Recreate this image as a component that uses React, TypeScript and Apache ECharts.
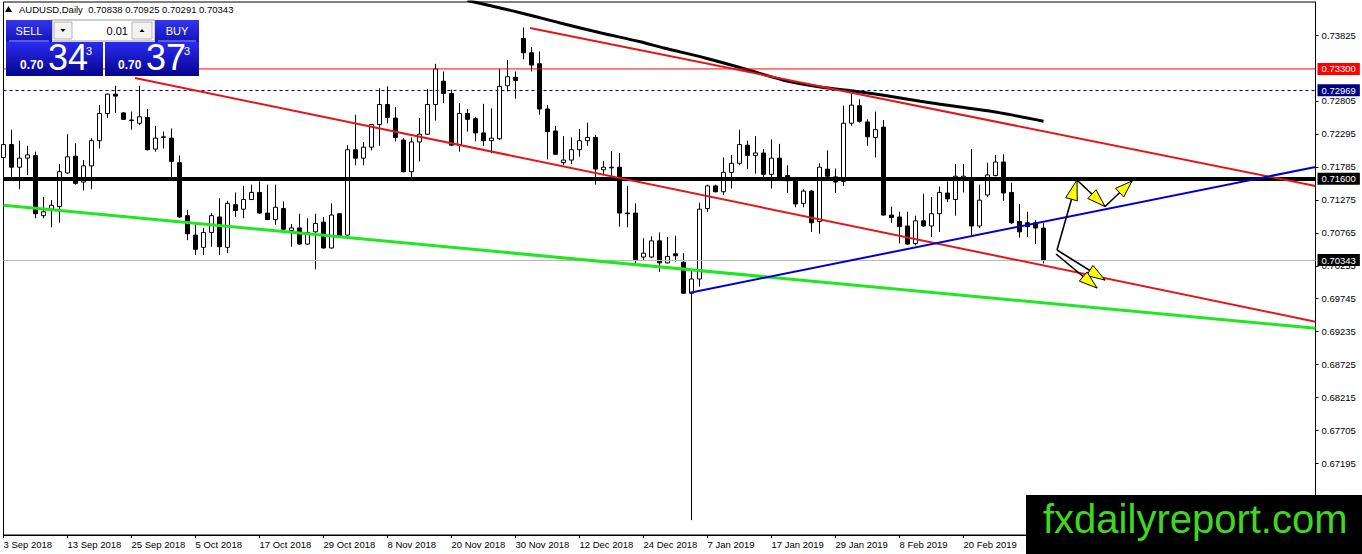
import React, { useEffect, useRef } from "react";
import * as echarts from "echarts";

// ---- data (daily AUDUSD bars, index 0 = 3 Sep 2018) ----
const opens = [
  0.7193, 0.7213, 0.7178, 0.7192, 0.7196, 0.7103, 0.7113, 0.7117, 0.7169, 0.7195,
  0.7155, 0.718, 0.7219, 0.7261, 0.7291, 0.7262, 0.725, 0.7246, 0.7255, 0.7206,
  0.7224, 0.7223, 0.7185, 0.7103, 0.7073, 0.7054, 0.7077, 0.7101, 0.7054, 0.712,
  0.7113, 0.7128, 0.7139, 0.7107, 0.7097, 0.7114, 0.708, 0.7084, 0.7059, 0.7078,
  0.7093, 0.7053, 0.7106, 0.7073, 0.7205, 0.7192, 0.7209, 0.7244, 0.7275, 0.7254,
  0.722, 0.7171, 0.7217, 0.7229, 0.7275, 0.7311, 0.7292, 0.7212, 0.7261, 0.7253,
  0.7231, 0.7219, 0.7222, 0.7304, 0.7317, 0.7377, 0.7355, 0.7338, 0.7268, 0.7234,
  0.7185, 0.7189, 0.7205, 0.7219, 0.7224, 0.7174, 0.7177, 0.7178, 0.7107, 0.7107,
  0.7039, 0.7039, 0.7064, 0.703, 0.7044, 0.7031, 0.6983, 0.7005, 0.7114, 0.7149,
  0.714, 0.717, 0.7184, 0.7212, 0.7196, 0.72, 0.7167, 0.7192, 0.7165, 0.7161,
  0.7122, 0.7141, 0.7094, 0.7175, 0.7163, 0.7156, 0.7246, 0.7273, 0.7248, 0.7224,
  0.724, 0.7104, 0.7101, 0.7087, 0.706, 0.7095, 0.7087, 0.7106, 0.7138, 0.7128,
  0.7161, 0.7159, 0.7087, 0.7135, 0.7165, 0.7186, 0.7139, 0.7094, 0.7092, 0.7092,
  0.70838,
];
const highs = [
  0.7223, 0.7236, 0.7219, 0.7211, 0.7202, 0.7132, 0.7127, 0.7183, 0.7229, 0.7215,
  0.7189, 0.7223, 0.7274, 0.7292, 0.7304, 0.7263, 0.7264, 0.7304, 0.7268, 0.7242,
  0.7233, 0.7238, 0.7196, 0.7112, 0.7089, 0.7084, 0.7107, 0.713, 0.7126, 0.7139,
  0.7149, 0.7151, 0.7156, 0.7151, 0.7151, 0.7125, 0.709, 0.7106, 0.7099, 0.7106,
  0.7101, 0.7122, 0.7107, 0.7212, 0.7259, 0.7217, 0.7245, 0.73, 0.7303, 0.7271,
  0.7223, 0.7224, 0.7254, 0.7299, 0.7338, 0.7326, 0.7298, 0.7277, 0.7268, 0.7256,
  0.7276, 0.7269, 0.733, 0.7344, 0.7326, 0.7394, 0.7364, 0.7357, 0.7274, 0.7242,
  0.7226, 0.7224, 0.7237, 0.7247, 0.7228, 0.7188, 0.7203, 0.72, 0.7149, 0.7122,
  0.7068, 0.7071, 0.7077, 0.707, 0.7072, 0.7045, 0.7019, 0.7123, 0.7151, 0.7151,
  0.7193, 0.7197, 0.7236, 0.7219, 0.7226, 0.7206, 0.7221, 0.7214, 0.7181, 0.7163,
  0.7144, 0.7143, 0.7184, 0.7204, 0.7176, 0.7273, 0.7292, 0.7283, 0.7252, 0.7264,
  0.7251, 0.7117, 0.7109, 0.7109, 0.7103, 0.7137, 0.7132, 0.7148, 0.7156, 0.7183,
  0.7183, 0.7206, 0.7151, 0.7185, 0.7197, 0.7198, 0.7154, 0.7121, 0.7109, 0.7096,
  0.70925,
];
const lows = [
  0.7189, 0.7162, 0.7144, 0.7166, 0.7099, 0.7099, 0.7085, 0.7092, 0.7168, 0.7151,
  0.7142, 0.7144, 0.7207, 0.7254, 0.7262, 0.7251, 0.7236, 0.7243, 0.7204, 0.7202,
  0.7207, 0.7162, 0.71, 0.7065, 0.7042, 0.7042, 0.7055, 0.7042, 0.7045, 0.7101,
  0.7099, 0.7127, 0.7106, 0.7096, 0.7089, 0.7076, 0.7055, 0.7058, 0.7058, 0.702,
  0.7052, 0.7052, 0.7071, 0.7071, 0.7181, 0.7181, 0.7204, 0.7211, 0.7246, 0.7218,
  0.717, 0.7163, 0.7187, 0.7228, 0.725, 0.7277, 0.7211, 0.7202, 0.7233, 0.7218,
  0.7211, 0.72, 0.722, 0.7295, 0.7284, 0.7345, 0.7326, 0.7259, 0.719, 0.7197,
  0.7181, 0.7183, 0.7194, 0.7211, 0.7151, 0.7166, 0.7163, 0.7086, 0.7085, 0.7029,
  0.7033, 0.7037, 0.7016, 0.7029, 0.7032, 0.6982, 0.6632, 0.6993, 0.7109, 0.7139,
  0.7135, 0.7145, 0.7181, 0.7175, 0.7168, 0.7161, 0.7145, 0.7158, 0.7138, 0.7116,
  0.7116, 0.7078, 0.7075, 0.7163, 0.7138, 0.7149, 0.7242, 0.7247, 0.7211, 0.7193,
  0.7103, 0.7092, 0.706, 0.7058, 0.7057, 0.7086, 0.707, 0.7078, 0.7124, 0.7103,
  0.7139, 0.7072, 0.7084, 0.7132, 0.7164, 0.7126, 0.709, 0.7069, 0.707, 0.7059,
  0.70291,
];
const closes = [
  0.7213, 0.7178, 0.7192, 0.7197, 0.7106, 0.7109, 0.7119, 0.7171, 0.7194, 0.7153,
  0.718, 0.7219, 0.7261, 0.7291, 0.7288, 0.7252, 0.7251, 0.7256, 0.7205, 0.7223,
  0.7225, 0.7187, 0.7101, 0.7075, 0.7051, 0.7077, 0.7103, 0.7055, 0.7122, 0.7111,
  0.7128, 0.7139, 0.7107, 0.7097, 0.7116, 0.7082, 0.7084, 0.7059, 0.7077, 0.7091,
  0.7053, 0.7104, 0.7072, 0.7205, 0.7192, 0.7209, 0.7244, 0.7275, 0.7255, 0.7224,
  0.7171, 0.7217, 0.7229, 0.7275, 0.733, 0.7292, 0.7212, 0.7261, 0.7252, 0.7231,
  0.7219, 0.7223, 0.7303, 0.7318, 0.7312, 0.7355, 0.7336, 0.7268, 0.7233, 0.7198,
  0.7189, 0.7205, 0.7219, 0.7224, 0.7175, 0.7178, 0.7178, 0.7107, 0.7106, 0.7035,
  0.7045, 0.7064, 0.703, 0.704, 0.7041, 0.6983, 0.7005, 0.7113, 0.7149, 0.714,
  0.717, 0.7184, 0.7213, 0.7196, 0.72, 0.7167, 0.7192, 0.7159, 0.7157, 0.7121,
  0.7141, 0.7092, 0.7178, 0.7164, 0.7155, 0.7246, 0.7274, 0.7249, 0.7225, 0.7236,
  0.7104, 0.71, 0.7086, 0.7059, 0.7095, 0.7087, 0.7106, 0.7139, 0.7129, 0.7164,
  0.7164, 0.7087, 0.7127, 0.7166, 0.7186, 0.7138, 0.7092, 0.7078, 0.7086, 0.7084,
  0.70343,
];

// x-axis tick labels, one every 8 bars
const xTickLabels = [
  "3 Sep 2018", "13 Sep 2018", "25 Sep 2018", "5 Oct 2018", "17 Oct 2018",
  "29 Oct 2018", "8 Nov 2018", "20 Nov 2018", "30 Nov 2018", "12 Dec 2018",
  "24 Dec 2018", "7 Jan 2019", "17 Jan 2019", "29 Jan 2019", "8 Feb 2019",
  "20 Feb 2019",
];
// price scale tick labels
const yTickValues = [
  0.67195, 0.67705, 0.68215, 0.68725, 0.69235, 0.69745, 0.70255,
  0.70765, 0.71275, 0.71785, 0.72295, 0.72805, 0.73825,
];

// moving average (black curve): bar index / value
const maIndex = [58, 64.6, 69.6, 74.6, 79.6, 82.7, 87.7, 92.7, 97.4, 102.1, 106.2, 109.6, 114.6, 119.6, 124.6, 130];
const maValues = [0.7436, 0.7417, 0.7401, 0.7386, 0.7372, 0.7362, 0.7347, 0.733, 0.7313, 0.7302, 0.7296, 0.729, 0.728, 0.7271, 0.7262, 0.7249];

// horizontal levels
const levelPrices = [0.733, 0.72969, 0.716, 0.70343];
const levelLabels = ["0.73300", "0.72969", "0.71600", "0.70343"];
const resistanceLevel = 0.733;

// trendlines: [[startIndex, startPrice], [endIndex, endPrice]]
const trendUpperRed = [[65.81, 0.73933], [164, 0.7149]];
const trendLowerRed = [[16.44, 0.7316], [164, 0.6939]];
const trendGreen = [[0, 0.7119], [164, 0.69287]];
const trendBlue = [[85.81, 0.69838], [164, 0.71783]];

const FONT = "Liberation Sans, Arial, sans-serif";

function arrowHead(sx: number, sy: number, tx: number, ty: number, L = 17, W = 11) {
  const dx = tx - sx, dy = ty - sy;
  const len = Math.hypot(dx, dy);
  const ux = dx / len, uy = dy / len;
  const bx = tx - ux * L, by = ty - uy * L;
  const nx = -uy, ny = ux;
  return [
    [tx, ty],
    [bx + (nx * W) / 2, by + (ny * W) / 2],
    [bx - (nx * W) / 2, by - (ny * W) / 2],
  ];
}

function grad(c1: string, c2: string) {
  return new echarts.graphic.LinearGradient(0, 0, 0, 1, [
    { offset: 0, color: c1 },
    { offset: 1, color: c2 },
  ]);
}

export default function App() {
  const ref = useRef<HTMLDivElement>(null);

  useEffect(() => {
    document.body.style.margin = "0";
    if (!ref.current) return;
    const chart = echarts.init(ref.current, undefined, { renderer: "svg" });

    const candleData = opens.map((o, i) => [i, o, closes[i], lows[i], highs[i]]);
    const maData = maIndex.map((x, i) => [x, maValues[i]]);

    const levelStyles = [
      { line: { color: "rgba(255,0,0,0)", width: 1, type: "solid" }, bg: "#ff0000" },
      { line: { color: "#000080", width: 1, type: [3, 3] }, bg: "#000080" },
      { line: { color: "#000000", width: 4, type: "solid" }, bg: "#000000" },
      { line: { color: "#b8b8b8", width: 1, type: "solid" }, bg: "#000000" },
    ];

    const levelLines = levelPrices.map((p, k) => ({
      yAxis: p,
      lineStyle: levelStyles[k].line,
      label: {
        show: true,
        position: "end",
        distance: 2,
        formatter: levelLabels[k],
        color: "#fff",
        backgroundColor: levelStyles[k].bg,
        padding: [1, 4, 1, 4],
        fontSize: 9.5,
        fontFamily: FONT,
        opacity: 1,
      },
    }));

    const trend = (pts: number[][], color: string, width: number) => [
      { coord: pts[0], lineStyle: { color, width, type: "solid" } },
      { coord: pts[1] },
    ];

    // arrow annotation points (pixels)
    const A = [1057, 250], B = [1077, 180], C = [1105, 206.5], D = [1132, 181];
    const E1 = [1105, 280], E2 = [1097, 288], A2 = [1056, 254];
    const shaft = (p: number[], q: number[]) => ({
      type: "line",
      z: 50,
      shape: { x1: p[0], y1: p[1], x2: q[0], y2: q[1] },
      style: { stroke: "#000", lineWidth: 1.6 },
    });
    const head = (p: number[], q: number[], L = 17, W = 11) => ({
      type: "polygon",
      z: 51,
      shape: { points: arrowHead(p[0], p[1], q[0], q[1], L, W) },
      style: { fill: "#ffff00", stroke: "#000", lineWidth: 1 },
    });

    const txt = (x: number, y: number, text: string, size: number, opts: any = {}) => ({
      type: "text",
      z: 101,
      x,
      y,
      style: {
        text,
        fill: opts.fill || "#fff",
        fontSize: size,
        fontFamily: FONT,
        fontWeight: opts.bold ? "bold" : "normal",
        align: opts.align || "left",
        verticalAlign: "middle",
      },
    });

    const graphic: any[] = [
      // header
      { type: "polygon", z: 101, shape: { points: [[5, 12], [12, 12], [8.5, 6]] }, style: { fill: "#000" } },
      txt(19, 9.5, "AUDUSD,Daily  0.70838 0.70925 0.70291 0.70343", 9.5, { fill: "#000" }),
      // trade panel
      { type: "rect", z: 100, shape: { x: 52, y: 20, width: 103, height: 21 }, style: { fill: "#fff", stroke: "#9a9a9a", lineWidth: 1 } },
      { type: "rect", z: 100, shape: { x: 6, y: 20, width: 46, height: 22 }, style: { fill: grad("#3434f0", "#1414b8") } },
      { type: "rect", z: 100, shape: { x: 155, y: 20, width: 44, height: 22 }, style: { fill: grad("#3434f0", "#1414b8") } },
      { type: "line", z: 101, shape: { x1: 9, y1: 41, x2: 49, y2: 41 }, style: { stroke: "#9c9cff", lineWidth: 1 } },
      { type: "line", z: 101, shape: { x1: 158, y1: 41, x2: 196, y2: 41 }, style: { stroke: "#9c9cff", lineWidth: 1 } },
      txt(29, 30.5, "SELL", 11, { align: "center" }),
      txt(177, 30.5, "BUY", 11, { align: "center" }),
      { type: "rect", z: 101, shape: { x: 54, y: 22, width: 18, height: 17 }, style: { fill: "#f2f2f2", stroke: "#b4b4b4", lineWidth: 1 } },
      { type: "rect", z: 101, shape: { x: 132, y: 22, width: 20, height: 17 }, style: { fill: "#f2f2f2", stroke: "#b4b4b4", lineWidth: 1 } },
      { type: "polygon", z: 102, shape: { points: [[60.5, 29], [65.5, 29], [63, 32]] }, style: { fill: "#000" } },
      { type: "polygon", z: 102, shape: { points: [[139.5, 32], [144.5, 32], [142, 29]] }, style: { fill: "#000" } },
      txt(128, 31, "0.01", 11, { fill: "#000", align: "right" }),
      { type: "rect", z: 100, shape: { x: 6, y: 42, width: 97, height: 34 }, style: { fill: grad("#2a2af2", "#05058f") } },
      { type: "rect", z: 100, shape: { x: 105, y: 42, width: 94, height: 34 }, style: { fill: grad("#2a2af2", "#05058f") } },
      txt(20, 65, "0.70", 12, { bold: true }),
      txt(48, 57.5, "34", 36),
      txt(86, 51, "3", 11),
      txt(118, 65, "0.70", 12, { bold: true }),
      txt(146, 57.5, "37", 36),
      txt(184, 51, "3", 11),
      // arrows annotation
      shaft(A, B),
      shaft(B, C),
      shaft(C, D),
      shaft(A, E1),
      shaft(A2, E2),
      head(A, B, 20, 12),
      head(B, C, 18, 12),
      head(C, D, 17, 12),
      head(A, E1, 18, 12),
      head(A2, E2, 18, 12),
      // logo
      { type: "rect", z: 110, shape: { x: 1026, y: 495, width: 336, height: 59 }, style: { fill: "#000" } },
      {
        type: "text",
        z: 111,
        x: 1043,
        y: 519,
        style: { text: "fxdailyreport.com", fill: "#3fd820", fontSize: 40, fontFamily: FONT, verticalAlign: "middle", align: "left" },
      },
    ];

    chart.setOption({
      animation: false,
      backgroundColor: "#ffffff",
      grid: {
        left: 3.5,
        right: 46.5,
        top: 2,
        bottom: 19,
        show: true,
        borderColor: "#000",
        borderWidth: 1,
        backgroundColor: "#fff",
      },
      xAxis: {
        type: "value",
        min: 0,
        max: 164,
        interval: 8,
        splitLine: { show: false },
        axisLine: { show: true, onZero: false, lineStyle: { color: "#000", width: 1 } },
        axisTick: { show: true, length: 3, lineStyle: { color: "#000" } },
        axisLabel: {
          show: true,
          align: "left",
          margin: 4,
          fontSize: 9.5,
          fontFamily: FONT,
          color: "#000",
          showMaxLabel: false,
          formatter: (v: number) => {
            const k = v / 8;
            return Number.isInteger(k) && k < xTickLabels.length ? xTickLabels[k] : "";
          },
        },
      },
      yAxis: {
        type: "value",
        position: "right",
        min: 0.660895,
        max: 0.743356,
        scale: true,
        splitLine: { show: false },
        axisLine: { show: true, onZero: false, lineStyle: { color: "#000", width: 1 } },
        axisTick: { show: true, length: 3, customValues: yTickValues, lineStyle: { color: "#000" } },
        axisLabel: {
          show: true,
          customValues: yTickValues,
          margin: 6,
          fontSize: 9.5,
          fontFamily: FONT,
          color: "#000",
          formatter: (v: number) => v.toFixed(5),
        },
      },
      series: [
        {
          type: "candlestick",
          data: candleData,
          encode: { x: 0, y: [1, 2, 3, 4] },
          barWidth: 4,
          silent: true,
          z: 2,
          itemStyle: {
            color: "#ffffff",
            color0: "#000000",
            borderColor: "#000000",
            borderColor0: "#000000",
            borderWidth: 1,
          },
        },
        {
          type: "line",
          data: maData,
          smooth: 0.3,
          symbol: "none",
          silent: true,
          z: 3,
          lineStyle: { color: "#000", width: 3 },
        },
        {
          type: "line",
          data: [[0, resistanceLevel], [164, resistanceLevel]],
          symbol: "none",
          silent: true,
          z: 3,
          itemStyle: { color: "#ff0000" },
          lineStyle: { color: "#ff0000", width: 1 },
        },
        {
          type: "line",
          data: [],
          silent: true,
          z: 4,
          markLine: {
            silent: true,
            precision: 6,
            symbol: ["none", "none"],
            animation: false,
            label: { show: false },
            emphasis: { disabled: true },
            data: [
              ...levelLines,
              trend(trendUpperRed, "#e4161b", 2),
              trend(trendLowerRed, "#e4161b", 2),
              trend(trendGreen, "#22e622", 3),
              trend(trendBlue, "#0000d0", 2),
            ],
          },
        },
      ],
      graphic,
    });

    return () => chart.dispose();
  }, []);

  return <div ref={ref} style={{ width: 1362, height: 554 }} />;
}
